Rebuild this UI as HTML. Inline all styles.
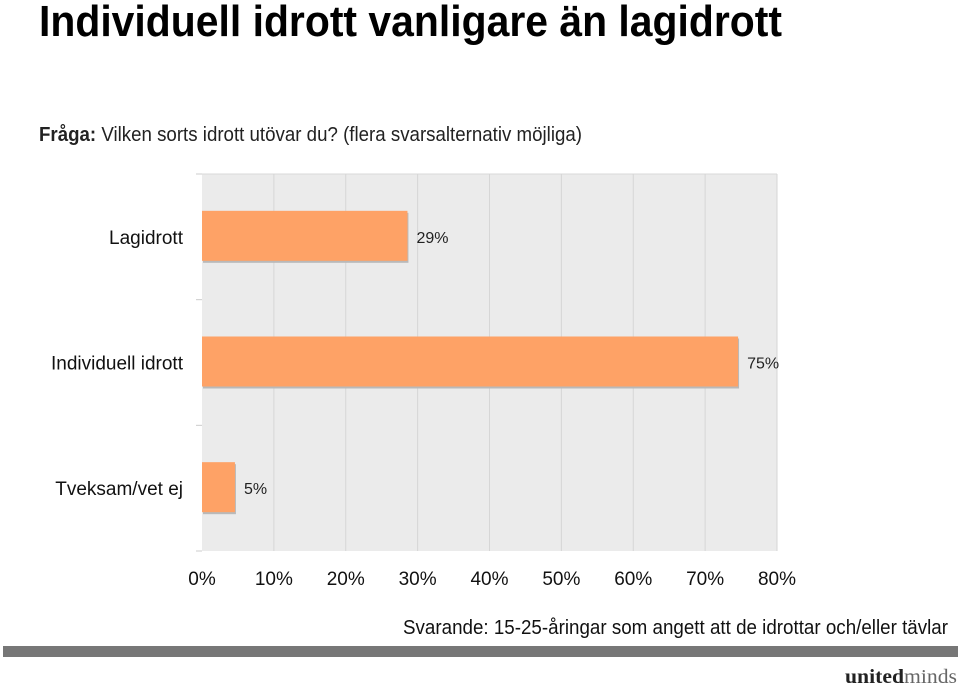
<!DOCTYPE html>
<html><head><meta charset="utf-8"><style>
html,body{margin:0;padding:0;background:#fff;}
svg{display:block;font-family:"Liberation Sans Narrow","Liberation Sans",sans-serif;}
</style></head><body>
<svg id="chart" width="960" height="688" viewBox="0 0 960 688">
  <text x="39" y="36" font-size="44" font-weight="bold" fill="#000" textLength="743" lengthAdjust="spacingAndGlyphs">Individuell idrott vanligare än lagidrott</text>
  <text x="39" y="141" font-size="20" fill="#222" textLength="543" lengthAdjust="spacingAndGlyphs"><tspan font-weight="bold">Fråga:</tspan> Vilken sorts idrott utövar du? (flera svarsalternativ möjliga)</text>
  <rect x="202" y="174" width="575" height="377" fill="#ebebeb"/>
  <line x1="196" y1="174" x2="777" y2="174" stroke="#d8d8d8"/>
  <g id="grid"></g>
  <g id="bars"></g>
  <g id="xticks"></g>
  <text x="948" y="634" font-size="20" fill="#111" text-anchor="end" textLength="545" lengthAdjust="spacingAndGlyphs">Svarande: 15-25-åringar som angett att de idrottar och/eller tävlar</text>
  <rect x="3" y="646" width="955" height="11" fill="#777"/>
  <text x="957" y="683" font-family="'Liberation Serif',serif" font-size="20" fill="#222" text-anchor="end" textLength="112" lengthAdjust="spacingAndGlyphs"><tspan font-weight="bold">united</tspan><tspan fill="#666">minds</tspan></text>
</svg>
<script>
const categories = ["Lagidrott", "Individuell idrott", "Tveksam/vet ej"];
const values = [29, 75, 5];
const tickValues = [0, 10, 20, 30, 40, 50, 60, 70, 80];
const tickLabels = ["0%", "10%", "20%", "30%", "40%", "50%", "60%", "70%", "80%"];

const NS = "http://www.w3.org/2000/svg";
const x0 = 202, x1 = 777, yTop = 174, yBot = 551;
const xMax = 80;
function xs(v){ return x0 + (v / xMax) * (x1 - x0); }
const band = (yBot - yTop) / categories.length;
function yb(i){ return yTop + i * band; }
function mk(tag, attrs, parent){
  const e = document.createElementNS(NS, tag);
  for (const k in attrs) e.setAttribute(k, attrs[k]);
  parent.appendChild(e);
  return e;
}
const grid = document.getElementById('grid');
const bars = document.getElementById('bars');
const xt = document.getElementById('xticks');

tickValues.forEach((t, i) => {
  if (i > 0) {
    const l = mk('line', {x1: xs(t), x2: xs(t), y1: yTop, y2: yBot, stroke: '#d6d6d6', 'stroke-width': 1}, grid);
    
    
  }
  const tx = mk('text', {x: xs(t), y: 585, 'font-size': 19, fill: '#111', 'text-anchor': 'middle'}, xt);
  tx.textContent = tickLabels[i];
  
  
});
for (let i = 0; i <= categories.length; i++) {
  const l = mk('line', {x1: 196, x2: 202, y1: yb(i), y2: yb(i), stroke: '#ccc'}, grid);
  
  
}
categories.forEach((c, i) => {
  const yc = yb(i) + band / 2;
  const w = xs(values[i]) - x0 - 3;
  const sh = mk('rect', {x: x0 + 1, y: yc - 24, width: w, height: 50, fill: '#b9b9b9'}, bars);
  
  
  const r = mk('rect', {x: x0, y: yc - 26, width: w, height: 50, fill: '#fea266'}, bars);
  
  
  const v = mk('text', {x: x0 + w + 9, y: yc + 6, 'font-size': 16, fill: '#222'}, bars);
  v.textContent = values[i] + '%';
  
  
  const lb = mk('text', {x: 183, y: yc + 7, 'font-size': 19, fill: '#111', 'text-anchor': 'end'}, bars);
  lb.textContent = c;
  
  
});
</script>
</body></html>
